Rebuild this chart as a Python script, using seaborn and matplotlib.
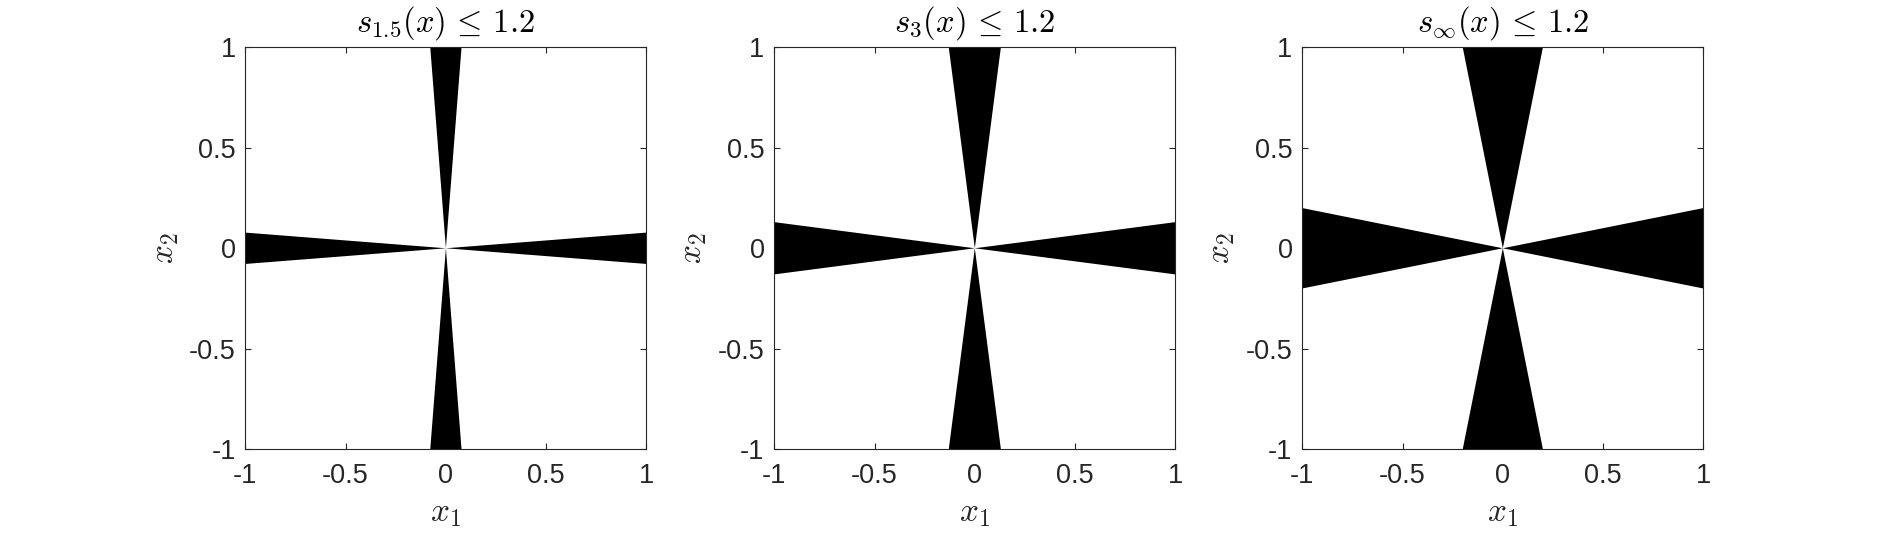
import matplotlib
matplotlib.use("Agg")
import matplotlib.pyplot as plt
import seaborn as sns

# ---- data ----
titles = [r"$s_{1.5}(x) \,\leq\, 1.2$", r"$s_3(x) \,\leq\, 1.2$", r"$s_\infty(x) \,\leq\, 1.2$"]
# half-width of each black wedge where it meets the border (|x2|/|x1|)
wedge_half_widths = [0.078, 0.13, 0.20]
tick_values = [-1, -0.5, 0, 0.5, 1]
tick_labels = ["-1", "-0.5", "0", "0.5", "1"]
x_label = r"$x_1$"
y_label = r"$x_2$"

sns.set_theme(style="ticks")
plt.rcParams["font.family"] = ["Liberation Sans", "DejaVu Sans"]
plt.rcParams["mathtext.fontset"] = "cm"
plt.rcParams["axes.unicode_minus"] = False

TXT = "#262626"
fig = plt.figure(figsize=(18.83, 5.36), dpi=100)
fig.patch.set_facecolor("white")
lefts = [0.1303, 0.4112, 0.6916]

for left, title, w in zip(lefts, titles, wedge_half_widths):
    ax = fig.add_axes([left, 0.1618, 0.2130, 0.75])
    ax.set_facecolor("white")
    for s in (1, -1):
        # horizontal wedges
        ax.fill([0, s, s], [0, w, -w], color="black", lw=0)
        # vertical wedges
        ax.fill([0, w, -w], [0, s, s], color="black", lw=0)
    ax.set_xlim(-1, 1)
    ax.set_ylim(-1, 1)
    ax.set_xticks(tick_values)
    ax.set_xticklabels(tick_labels)
    ax.set_yticks(tick_values)
    ax.set_yticklabels(tick_labels)
    ax.tick_params(axis="both", which="both", direction="in", length=4, width=0.8,
                   color=TXT, labelcolor=TXT, labelsize=19.5,
                   top=True, right=True)
    ax.tick_params(axis="x", pad=10)
    ax.tick_params(axis="y", pad=7)
    for sp in ax.spines.values():
        sp.set_visible(True)
        sp.set_linewidth(0.8)
        sp.set_color(TXT)
    ax.set_title(title, fontsize=23.5, color="black", pad=11.5)
    ax.set_xlabel(x_label, fontsize=24, color=TXT, labelpad=6.5)
    ax.set_ylabel(y_label, fontsize=24, color=TXT, labelpad=6)

fig.savefig("out.png", dpi=100, facecolor="white")
